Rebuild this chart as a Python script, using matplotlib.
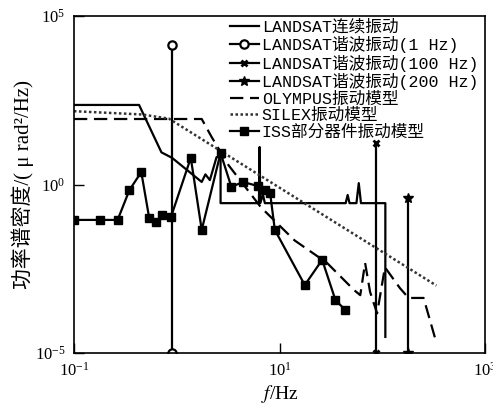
import matplotlib
matplotlib.use('Agg')
import matplotlib.pyplot as plt
from matplotlib.ticker import NullLocator

plt.rcParams['mathtext.fontset'] = 'stix'
plt.rcParams['font.family'] = ['Liberation Serif', 'Noto Sans CJK SC']

# LANDSAT continuous vibration
cont_f = [0.1, 0.43, 0.71, 0.9, 1.75, 1.9, 2.1, 2.44, 2.67, 2.67, 6.3, 6.4, 6.5,
          6.9, 7.2, 44, 46, 48, 56, 59, 62, 107, 107]
cont_p = [230, 230, 9, 6.2, 1.19, 2.0, 1.35, 6.5, 6.5, 0.28, 0.28, 13, 0.28,
          0.5, 0.28, 0.28, 0.49, 0.28, 0.28, 1.1, 0.28, 0.28, 3e-5]

# LANDSAT harmonics (frequency, peak level)
h1_f, h1_p = [0.89, 0.89], [1e-5, 1.4e4]
h100_f, h100_p = [87, 87], [1e-5, 17]
h200_f, h200_p = [178, 178], [1e-5, 0.4]

# OLYMPUS model
oly_f = [0.1, 1.75, 2.18, 3.18, 6.6, 14, 29, 53, 61, 68, 76, 89, 106, 148, 180, 252, 336]
oly_p = [88, 88, 26, 3.8, 0.21, 0.022, 4.7e-3, 7.4e-4, 5.2e-4, 4.7e-3, 6.5e-4,
         1.5e-4, 3.5e-3, 8.5e-4, 4.3e-4, 4.3e-4, 2e-5]

# SILEX model
sil_f = [0.1, 0.46, 0.84, 336]
sil_p = [150, 120, 90, 1.0e-3]

# ISS component model
iss_f = [0.1, 0.178, 0.266, 0.347, 0.452, 0.54, 0.63, 0.72, 0.88, 1.37, 1.75, 2.67,
         3.4, 4.4, 6.2, 7.2, 8.1, 9.0, 17.6, 26, 35, 43.6]
iss_p = [0.089, 0.089, 0.089, 0.69, 2.34, 0.1, 0.077, 0.125, 0.11, 6.2, 0.045, 8.6,
         0.85, 1.19, 0.9, 0.69, 0.56, 0.045, 1.04e-3, 5.8e-3, 3.7e-4, 1.9e-4]

labels = ['LANDSAT连续振动', 'LANDSAT谐波振动(1 Hz)', 'LANDSAT谐波振动(100 Hz)',
          'LANDSAT谐波振动(200 Hz)', 'OLYMPUS振动模型', 'SILEX振动模型', 'ISS部分器件振动模型']

fig = plt.figure(figsize=(4.93, 4.17), dpi=100)
ax = fig.add_axes([0.150, 0.1535, 0.834, 0.808])

lw = 1.6
ax.plot(cont_f, cont_p, color='black', lw=lw, label=labels[0])
ax.plot(h1_f, h1_p, color='black', lw=lw, marker='o', ms=6, mfc='white', mew=1.6,
        label=labels[1])
ax.plot(h100_f, h100_p, color='black', lw=lw, marker='x', ms=5, mew=2, label=labels[2])
ax.plot(h200_f, h200_p, color='black', lw=lw, marker='*', ms=7, label=labels[3])
ax.plot(oly_f, oly_p, color='black', lw=lw, ls=(0, (6, 3)), label=labels[4])
ax.plot(sil_f, sil_p, color='#333333', lw=1.8, ls=(0, (1, 1)), label=labels[5])
ax.plot(iss_f, iss_p, color='black', lw=lw, marker='s', ms=5.5, label=labels[6])

ax.set_xscale('log')
ax.set_yscale('log')
ax.set_xlim(0.1, 1000)
ax.set_ylim(1e-5, 1e5)
ax.xaxis.set_major_locator(plt.FixedLocator([0.1, 10, 1000]))
ax.yaxis.set_major_locator(plt.FixedLocator([1e-5, 1, 1e5]))
ax.xaxis.set_minor_locator(NullLocator())
ax.yaxis.set_minor_locator(NullLocator())
ax.tick_params(direction='in', length=7, width=1, labelsize=12, pad=6)
for s in ax.spines.values():
    s.set_linewidth(1.2)

ax.set_xlabel('$f$/Hz', fontsize=14, labelpad=3)
ax.set_ylabel('功率谱密度/( μ rad²/Hz)', fontsize=15, labelpad=1)

ax.legend(loc='upper left', bbox_to_anchor=(0.38, 0.99), frameon=False,
          prop={'family': ['Liberation Mono', 'Noto Sans CJK SC'], 'size': 12},
          handlelength=1.7, handletextpad=0.2, labelspacing=0.08,
          borderpad=0, borderaxespad=0)

fig.savefig('out.png', dpi=100)
